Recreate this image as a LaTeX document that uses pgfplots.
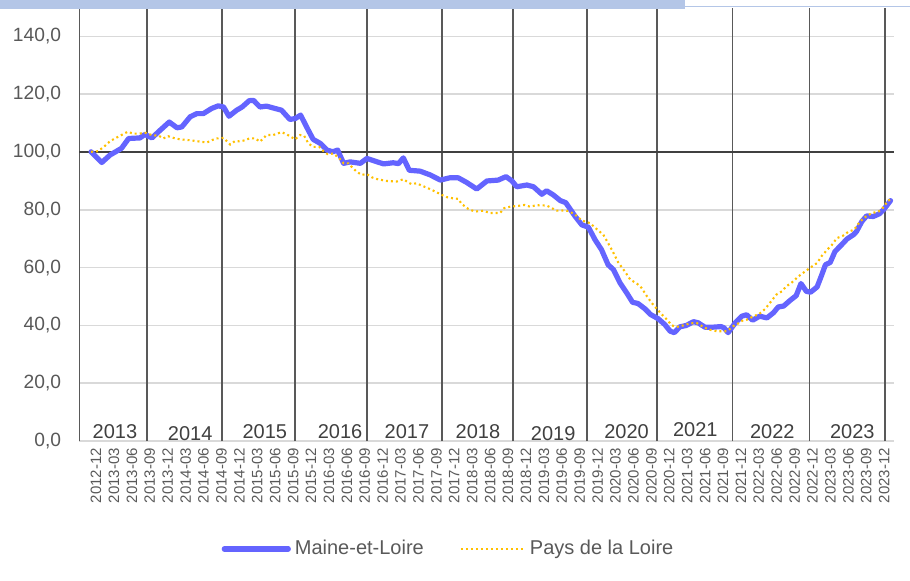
\documentclass[border=0pt]{standalone}
\usepackage{pgfplots}
\pgfplotsset{compat=1.18}
\usepackage{fontspec}
\setmainfont{Liberation Sans}
\definecolor{mblue}{RGB}{100,100,255}
\definecolor{pgold}{RGB}{255,192,0}
\definecolor{gridgray}{RGB}{217,217,217}
\definecolor{vline}{RGB}{89,89,89}
\definecolor{txt}{RGB}{89,89,89}
\definecolor{ytxt}{RGB}{64,64,64}
\definecolor{darkline}{RGB}{64,64,64}
\definecolor{band}{RGB}{180,198,231}
\begin{document}
\begin{tikzpicture}
\path[use as bounding box] (0pt,0pt) rectangle (455pt,290pt);
\begin{axis}[
  at={(39.55pt,69.5pt)}, anchor=south west,
  scale only axis, width=407.5pt, height=216.7pt,
  xmin=-2, xmax=134.5, ymin=0, ymax=150,
  axis line style={draw=none},
  ytick={0,20,...,140},
  ymajorgrids,
  major grid style={gridgray, line width=0.85pt},
  major tick length=0pt,
  xtick={-1,2,...,131},
  xticklabels={2012-12,2013-03,2013-06,2013-09,2013-12,2014-03,2014-06,2014-09,2014-12,2015-03,2015-06,2015-09,2015-12,2016-03,2016-06,2016-09,2016-12,2017-03,2017-06,2017-09,2017-12,2018-03,2018-06,2018-09,2018-12,2019-03,2019-06,2019-09,2019-12,2020-03,2020-06,2020-09,2020-12,2021-03,2021-06,2021-09,2021-12,2022-03,2022-06,2022-09,2022-12,2023-03,2023-06,2023-09,2023-12},
  tick label style={color=txt},
  xticklabel style={rotate=90, anchor=east, font=\fontsize{7.5}{9}\selectfont, yshift=-5.5pt},
  yticklabel style={font=\fontsize{9.6}{11}\selectfont, xshift=-5.5pt,
    /pgf/number format/.cd, fixed, fixed zerofill, precision=1, use comma, assume math mode=true},
  extra x ticks={9.4,21.9,34.2,46.2,58.8,70.7,83.1,94.8,107.4,120.3,133.0,-1.95},
  extra x tick labels={},
  extra x tick style={grid=major, major grid style={vline, line width=0.75pt}},
  extra y ticks={100},
  extra y tick labels={},
  extra y tick style={grid=major, major grid style={darkline, line width=1.2pt}},
  legend columns=2,
  legend style={at={(0.4545,-0.2490)}, anchor=center, draw=none, fill=none,
    font=\fontsize{10}{12}\selectfont, text=txt,
    /tikz/every even column/.append style={column sep=16pt}},
  legend image code/.code={\draw[#1] (0pt,0pt) -- (32pt,0pt);},
]
\addplot[mblue, line width=2.6pt, line join=round, line cap=round] table {
0 100.1
1.8 96.4
3.2 99.0
5.1 101.3
6.3 104.7
8.2 104.9
9.0 106.1
10.2 104.9
11.6 107.6
13.1 110.4
14.4 108.4
15.2 108.7
16.6 112.2
17.7 113.3
18.8 113.3
20.2 115.1
21.3 116.0
22.2 115.6
23.1 112.4
24.4 114.5
25.3 115.6
26.5 117.8
27.2 117.9
28.3 115.6
29.4 115.9
30.8 115.1
31.9 114.5
33.3 111.3
34.2 111.6
35.1 112.8
36.1 108.7
37.2 104.4
38.4 103.0
39.5 100.7
40.5 100.1
41.3 100.7
42.3 96.1
43.4 96.6
45.1 96.1
46.2 97.8
47.8 96.7
49.0 95.9
50.6 96.3
51.5 96.0
52.3 98.0
53.3 93.7
55.1 93.4
56.8 92.1
58.5 90.3
60.1 91.1
61.5 91.1
62.9 89.5
64.6 87.2
66.3 90.0
68.2 90.3
69.5 91.5
70.5 90.0
71.3 88.0
73.0 88.6
74.1 88.0
75.5 85.4
76.3 86.6
77.4 85.2
78.6 83.2
79.5 82.5
81.1 77.7
82.2 74.8
83.3 74.0
84.4 69.7
85.5 66.2
86.6 61.0
87.5 59.3
88.6 54.7
89.7 51.3
90.7 48.0
91.6 47.6
92.8 45.7
93.7 43.8
95.0 42.3
96.1 40.3
97.0 38.0
97.7 37.5
98.6 39.5
99.7 40.0
100.9 41.3
101.7 40.9
102.8 39.4
104.2 39.4
105.5 39.6
106.0 39.2
106.7 37.5
107.9 40.9
109.0 43.2
109.8 43.7
110.8 41.8
112.0 43.2
113.2 42.6
114.3 44.4
115.1 46.4
116.0 46.7
117.1 48.7
118.1 50.3
118.9 54.5
119.8 51.8
120.5 51.5
121.6 53.3
122.4 57.6
123.0 61.0
123.8 61.8
124.6 65.6
125.7 67.9
126.6 69.9
127.7 71.4
128.2 72.5
129.1 76.0
129.9 77.9
131.0 77.7
132.0 78.6
132.8 80.2
133.9 83.2
};
\addlegendentry{Maine-et-Loire}
\addplot[pgold, line width=1.05pt, dash pattern=on 1pt off 1.5pt] table {
0 100.1
1.2 100.3
2.3 102.1
3.2 103.8
4.0 104.7
5.1 105.9
6.1 107.0
7.1 106.4
8.1 106.4
9.0 106.7
10.2 105.9
11.4 105.6
12.1 104.7
12.9 105.5
13.8 104.9
14.9 104.4
16.6 104.1
18.3 103.6
19.4 103.3
20.2 104.1
21.0 104.7
22.2 104.9
23.3 102.6
24.1 103.8
25.0 103.7
25.8 104.1
26.6 104.8
27.5 104.7
28.3 103.6
29.4 105.9
30.5 105.9
31.9 106.9
32.8 106.1
34.2 104.4
35.0 105.9
35.7 105.6
36.4 103.0
37.2 101.8
38.2 101.8
38.9 100.4
39.6 99.3
40.6 99.5
41.6 97.8
42.3 96.1
43.1 96.1
43.9 94.4
44.5 93.2
45.3 92.1
46.2 92.4
47.0 91.3
47.8 90.7
49.5 90.0
51.2 89.8
52.3 90.6
53.2 89.4
53.7 88.9
54.5 89.2
55.4 88.4
57.1 86.9
58.7 85.2
59.6 84.4
60.6 84.0
61.5 83.8
62.1 82.0
63.2 80.3
64.3 79.4
65.7 79.7
66.8 78.9
68.5 78.9
69.2 80.6
70.2 81.1
71.6 81.4
72.6 81.7
73.5 81.1
74.6 81.6
76.3 81.5
77.2 80.6
77.9 79.7
78.8 79.8
80.0 79.6
81.1 78.3
82.2 76.3
83.6 75.4
84.7 73.3
85.8 71.4
86.6 68.5
87.5 65.1
88.3 61.8
89.4 58.7
90.3 55.9
91.4 54.5
92.2 53.0
93.1 50.1
93.9 47.8
94.7 45.9
95.6 43.8
96.4 42.1
97.3 40.0
98.1 39.5
99.2 40.0
100.3 40.7
101.4 40.9
102.3 39.8
103.4 38.6
104.8 38.0
106.5 38.0
107.6 39.8
108.4 40.7
109.2 41.8
110.1 42.1
110.9 43.2
111.8 43.8
112.9 45.7
113.7 47.8
114.8 50.7
115.7 51.8
116.5 53.6
117.4 54.9
118.5 57.0
119.4 58.4
120.4 59.9
121.6 61.6
122.4 64.1
123.3 66.2
124.1 67.9
124.9 70.2
125.9 71.0
126.9 72.5
127.8 73.1
128.8 76.0
129.8 77.7
130.8 78.9
131.9 79.4
132.7 80.9
133.5 83.2
133.9 83.5
};
\addlegendentry{Pays de la Loire}
\begin{scope}[every node/.style={font=\fontsize{10}{12}\selectfont, text=ytxt, inner sep=0pt}]
\node at (axis cs:4.0,3.1) {2013};
\node at (axis cs:16.6,2.6) {2014};
\node at (axis cs:29.1,3.1) {2015};
\node at (axis cs:41.7,3.1) {2016};
\node at (axis cs:52.9,3.1) {2017};
\node at (axis cs:64.8,3.4) {2018};
\node at (axis cs:77.4,2.6) {2019};
\node at (axis cs:89.7,3.4) {2020};
\node at (axis cs:101.2,3.8) {2021};
\node at (axis cs:114.1,3.4) {2022};
\node at (axis cs:127.5,3.4) {2023};
\end{scope}
\end{axis}
\fill[band] (0pt,285.35pt) rectangle (342.5pt,290pt);
\draw[band, line width=0.65pt] (342.5pt,286.65pt) -- (455pt,286.65pt);
\end{tikzpicture}
\end{document}
